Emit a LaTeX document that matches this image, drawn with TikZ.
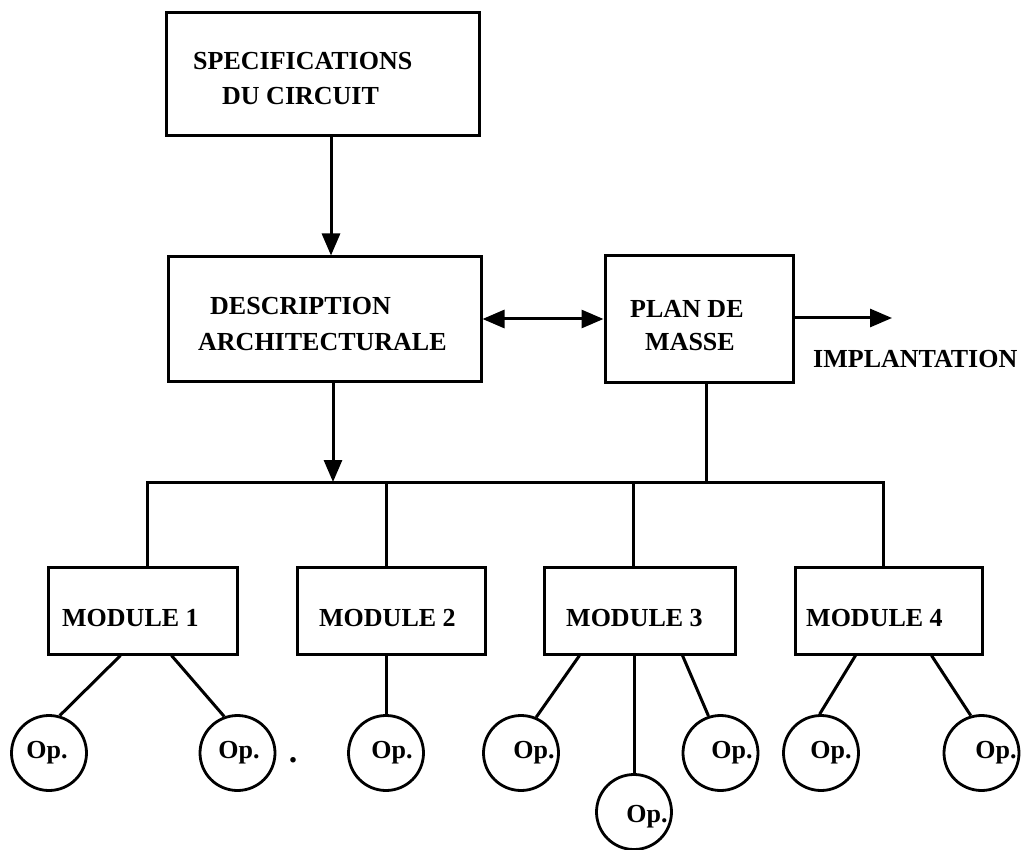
\documentclass[tikz,border=0pt]{standalone}
\usepackage{fontspec}
\setmainfont{Liberation Serif}
\usetikzlibrary{arrows.meta,calc}
\begin{document}
\begin{tikzpicture}[x=1pt,y=-1pt,
  box/.style={draw, line width=3pt, rectangle, inner sep=0pt},
  opnode/.style={draw, circle, line width=2.8pt, minimum size=75pt, inner sep=0pt},
  lbl/.style={anchor=base west, inner sep=0pt, font=\fontsize{26}{30}\selectfont\bfseries},
  oplbl/.style={anchor=base, inner sep=0pt, font=\fontsize{26}{30}\selectfont\bfseries},
  wire/.style={line width=3pt},
  arr/.style={wire, -{Triangle[length=22pt,width=18pt]}},
  darr/.style={wire, {Triangle[length=22pt,width=18pt]}-{Triangle[length=22pt,width=18pt]}},
]
\useasboundingbox (0,0) rectangle (1028,850);

% upper blocks
\node[box, minimum width=313pt, minimum height=123pt] (spec) at (322.5,74.5) {};
\node[box, minimum width=313pt, minimum height=124pt] (desc) at (324.5,319) {};
\node[box, minimum width=188pt, minimum height=126pt] (plan) at (699,319) {};

\node[lbl] (specA) at (193,70) {SPECIFICATIONS};
\node[lbl] (specB) at (222,105) {DU CIRCUIT};
\node[lbl] (descA) at (210,315) {DESCRIPTION};
\node[lbl] (descB) at (198,350) {ARCHITECTURALE};
\node[lbl] (planA) at (630,318) {PLAN DE};
\node[lbl] (planB) at (645,350) {MASSE};
\node[lbl] (impl) at (813,367) {IMPLANTATION};

% modules
\node[box, minimum width=189pt, minimum height=87pt] (m1) at (142.5,610.5) {};
\node[box, minimum width=188pt, minimum height=87pt] (m2) at (391,610.5) {};
\node[box, minimum width=191pt, minimum height=87pt] (m3) at (639.5,610.5) {};
\node[box, minimum width=187pt, minimum height=87pt] (m4) at (888.5,610.5) {};

\node[lbl] (m1t) at (62,626) {MODULE 1};
\node[lbl] (m2t) at (319,626) {MODULE 2};
\node[lbl] (m3t) at (566,626) {MODULE 3};
\node[lbl] (m4t) at (806,626) {MODULE 4};

% operators
\node[opnode] (o1) at (49,753) {};
\node[opnode] (o2) at (237.5,753) {};
\node[opnode] (o3) at (386,753) {};
\node[opnode] (o4) at (521,753) {};
\node[opnode] (o5) at (634,812) {};
\node[opnode] (o6) at (720.5,753) {};
\node[opnode] (o7) at (821,753) {};
\node[opnode] (o8) at (981.5,753) {};

\node[oplbl] (o1t) at (47,758) {Op.};
\node[oplbl] (o2t) at (239,758) {Op.};
\node[oplbl] (o3t) at (392,758) {Op.};
\node[oplbl] (o4t) at (534,758) {Op.};
\node[oplbl] (o5t) at (647,822) {Op.};
\node[oplbl] (o6t) at (732,758) {Op.};
\node[oplbl] (o7t) at (831,758) {Op.};
\node[oplbl] (o8t) at (996,758) {Op.};
\node[oplbl, font=\fontsize{34}{34}\selectfont\bfseries] (dot) at (293,762) {.};

% bus junctions
\coordinate (busL) at (147,482);
\coordinate (busR) at (883,482);
\coordinate (j2) at (386,482);
\coordinate (j3) at (633,482);
\coordinate (ja) at (333,482);
\coordinate (jp) at (706,482);
\coordinate (js) at (331,0);
\coordinate (implEnd) at (892,318);

% connectors
\draw[arr] (spec.south -| js) -- (desc.north -| js);
\draw[darr] (desc.east) -- (plan.west);
\draw[arr] (plan.east |- implEnd) -- (implEnd);
\draw[arr] (desc.south -| ja) -- (ja);
\draw[wire] (plan.south -| jp) -- (jp);
\draw[wire] (busL |- m1.north) -- (busL) -- (busR) -- (busR |- m4.north);
\draw[wire] (j2) -- (j2 |- m2.north);
\draw[wire] (j3) -- (j3 |- m3.north);

\draw[wire] ($(m1.south west)+(74,0)$) -- (o1.74);
\draw[wire] ($(m1.south west)+(125,0)$) -- (o2.110);
\draw[wire] (o3.north |- m2.south) -- (o3.north);
\draw[wire] ($(m3.south west)+(37,0)$) -- (o4.67);
\draw[wire] (o5.north |- m3.south) -- (o5.north);
\draw[wire] ($(m3.south west)+(140,0)$) -- (o6.108);
\draw[wire] ($(m4.south west)+(62,0)$) -- (o7.92);
\draw[wire] ($(m4.south west)+(138,0)$) -- (o8.106);
\end{tikzpicture}
\end{document}
